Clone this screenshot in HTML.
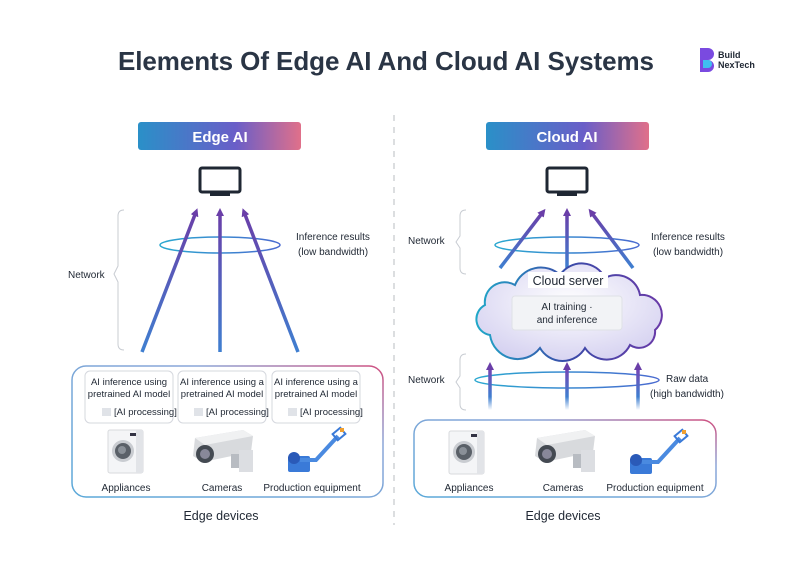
<!DOCTYPE html>
<html><head><meta charset="utf-8"><style>
html,body{margin:0;padding:0;background:#fff}
svg{display:block}
text{font-family:"Liberation Sans",sans-serif;fill:#1f2733}
</style></head><body>
<svg width="787" height="564" viewBox="0 0 787 564" xmlns="http://www.w3.org/2000/svg">
<defs>
<linearGradient id="ban" x1="0" x2="1" y1="0" y2="0"><stop offset="0" stop-color="#2a90c8"/><stop offset="0.6" stop-color="#6a5ec8"/><stop offset="1" stop-color="#e0708a"/></linearGradient>
<linearGradient id="arr" x1="0" x2="0" y1="1" y2="0"><stop offset="0" stop-color="#3f7fd0"/><stop offset="1" stop-color="#6a3ea8"/></linearGradient>
<linearGradient id="arr2" x1="0" x2="0" y1="1" y2="0"><stop offset="0" stop-color="#ffffff"/><stop offset="0.3" stop-color="#3f7fd0"/><stop offset="1" stop-color="#7a3eb0"/></linearGradient>
<linearGradient id="bx" x1="0" x2="1" y1="1" y2="0"><stop offset="0" stop-color="#5aa8d8"/><stop offset="0.7" stop-color="#8aa6d8"/><stop offset="1" stop-color="#d05080"/></linearGradient>
<linearGradient id="ell" x1="0" x2="1"><stop offset="0" stop-color="#2aa8d0"/><stop offset="1" stop-color="#4a6ad0"/></linearGradient>
<linearGradient id="cl" x1="0" x2="1"><stop offset="0" stop-color="#20a8c8"/><stop offset="0.5" stop-color="#3a4aa8"/><stop offset="1" stop-color="#6a3aa8"/></linearGradient>
<radialGradient id="clf" cx="0.5" cy="0.4" r="0.65"><stop offset="0" stop-color="#ffffff"/><stop offset="1" stop-color="#d4d0f0"/></radialGradient>
<marker id="ah" markerWidth="8" markerHeight="8" refX="4" refY="4" orient="auto" markerUnits="userSpaceOnUse"><path d="M0,0 L8,4 L0,8 z" fill="#6a3ea8"/></marker>
<g id="washer"><rect x="0" y="0" width="35" height="43" rx="2" fill="#f4f5f7" stroke="#d8dadd"/><rect x="28" y="0" width="7" height="43" fill="#e2e4e8"/><rect x="22" y="3" width="6" height="3" fill="#334"/><circle cx="15" cy="21" r="11" fill="#c9ccd1"/><circle cx="15" cy="21" r="8" fill="#5a6068"/><circle cx="14" cy="20" r="4" fill="#8a9098"/></g>
<g id="camera"><path d="M4,8 L52,0 L62,6 L60,22 L12,32 L2,26 z" fill="#d8dadd"/><path d="M4,8 L52,0 L62,6 L14,15 z" fill="#f0f1f2"/><ellipse cx="14" cy="24" rx="9" ry="9" fill="#444a52"/><circle cx="14" cy="24" r="5" fill="#889"/><rect x="40" y="24" width="10" height="14" fill="#b8bcc2"/><rect x="48" y="20" width="14" height="22" fill="#dcdee2"/></g>
<g id="robot"><rect x="2" y="28" width="22" height="16" rx="2" fill="#3a7ad8"/><circle cx="8" cy="30" r="6" fill="#2a5ab8"/><path d="M14,32 L30,32 L52,8" stroke="#4a8ae0" stroke-width="4" fill="none"/><rect x="48" y="2" width="10" height="8" fill="none" stroke="#3a7ad8" stroke-width="2" transform="rotate(-40 53 6)"/><rect x="54" y="0" width="4" height="4" fill="#f0a030"/></g>
</defs>

<text x="386" y="70" font-size="26" font-weight="bold" text-anchor="middle" textLength="536" lengthAdjust="spacing" style="fill:#2a3545">Elements Of Edge AI And Cloud AI Systems</text>
<path d="M700,48 h8 a6,6 0 0 1 0,12 a6,6 0 0 1 0,12 h-8 z" fill="#7a4ae0"/>
<path d="M703,60 h5 a4,4 0 0 1 0,8 h-5z" fill="#40c0f0"/>
<text x="718" y="58" font-size="9" font-weight="bold">Build</text>
<text x="718" y="68" font-size="9" font-weight="bold">NexTech</text>

<line x1="394" y1="115" x2="394" y2="525" stroke="#b8bcc2" stroke-dasharray="6,6"/>

<!-- LEFT -->
<rect x="138" y="122" width="163" height="28" rx="3" fill="url(#ban)"/>
<text x="220" y="142" font-size="15" font-weight="bold" text-anchor="middle" style="fill:#fff">Edge AI</text>
<rect x="200" y="168" width="40" height="24" rx="2" fill="none" stroke="#1f2733" stroke-width="3"/>
<rect x="210" y="193" width="20" height="3" fill="#1f2733"/>
<ellipse cx="220" cy="245" rx="60" ry="8" fill="none" stroke="url(#ell)" stroke-width="1.5"/>
<g stroke="url(#arr)" stroke-width="3.5" marker-end="url(#ah)">
<line x1="142" y1="352" x2="196" y2="212"/><line x1="220" y1="352" x2="220.01" y2="212"/><line x1="298" y1="352" x2="244" y2="212"/></g>
<path d="M124,210 q-6,0 -6,6 v50 l-4,8 l4,8 v62 q0,6 6,6" fill="none" stroke="#c8ccd2"/>
<text x="68" y="278" font-size="10">Network</text>
<text x="296" y="240" font-size="10">Inference results</text>
<text x="298" y="255" font-size="10">(low bandwidth)</text>
<rect x="72" y="366" width="311" height="131" rx="14" fill="none" stroke="url(#bx)" stroke-width="1.5"/>
<g font-size="9.5">
<rect x="85" y="371" width="88" height="52" rx="5" fill="#fff" stroke="#d5d8de"/>
<text x="129" y="385" text-anchor="middle">AI inference using</text><text x="129" y="397" text-anchor="middle">pretrained AI model</text>
<rect x="102" y="408" width="9" height="8" fill="#e0e3e8"/><text x="114" y="415">[AI processing]</text>
<rect x="178" y="371" width="88" height="52" rx="5" fill="#fff" stroke="#d5d8de"/>
<text x="222" y="385" text-anchor="middle">AI inference using a</text><text x="222" y="397" text-anchor="middle">pretrained AI model</text>
<rect x="194" y="408" width="9" height="8" fill="#e0e3e8"/><text x="206" y="415">[AI processing]</text>
<rect x="272" y="371" width="88" height="52" rx="5" fill="#fff" stroke="#d5d8de"/>
<text x="316" y="385" text-anchor="middle">AI inference using a</text><text x="316" y="397" text-anchor="middle">pretrained AI model</text>
<rect x="288" y="408" width="9" height="8" fill="#e0e3e8"/><text x="300" y="415">[AI processing]</text>
</g>
<use href="#washer" x="108" y="430"/><use href="#camera" x="191" y="430"/><use href="#robot" x="286" y="428"/>
<g font-size="10" text-anchor="middle"><text x="126" y="491">Appliances</text><text x="222" y="491">Cameras</text><text x="312" y="491">Production equipment</text></g>
<text x="221" y="520" font-size="12.5" text-anchor="middle">Edge devices</text>

<!-- RIGHT -->
<rect x="486" y="122" width="163" height="28" rx="3" fill="url(#ban)"/>
<text x="567" y="142" font-size="15" font-weight="bold" text-anchor="middle" style="fill:#fff">Cloud AI</text>
<rect x="547" y="168" width="40" height="24" rx="2" fill="none" stroke="#1f2733" stroke-width="3"/>
<rect x="557" y="193" width="20" height="3" fill="#1f2733"/>
<ellipse cx="567" cy="245" rx="72" ry="8" fill="none" stroke="url(#ell)" stroke-width="1.5"/>
<g stroke="url(#arr)" stroke-width="3.5" marker-end="url(#ah)">
<line x1="500" y1="268" x2="543" y2="212"/><line x1="567" y1="268" x2="567.01" y2="212"/><line x1="633" y1="268" x2="591" y2="212"/></g>
<path d="M466,210 q-6,0 -6,6 v20 l-4,6 l4,6 v20 q0,6 6,6" fill="none" stroke="#c8ccd2"/>
<text x="408" y="244" font-size="10">Network</text>
<text x="651" y="240" font-size="10">Inference results</text>
<text x="653" y="255" font-size="10">(low bandwidth)</text>
<path d="M490,335 A16,16 0 0 1 485,305 A20,20 0 0 1 515,285 A28,28 0 0 1 560,275 A26,26 0 0 1 605,278 A24,24 0 0 1 640,295 A20,20 0 0 1 655,330 A16,16 0 0 1 630,345 A26,26 0 0 1 585,348 A26,26 0 0 1 540,348 A28,28 0 0 1 490,335 Z" fill="url(#clf)" stroke="url(#cl)" stroke-width="2"/>
<rect x="528" y="272" width="80" height="16" fill="#fff"/>
<text x="568" y="285" font-size="12.5" text-anchor="middle">Cloud server</text>
<rect x="512" y="296" width="110" height="34" rx="3" fill="#f2f3f6" stroke="#dfe1e6"/>
<text x="567" y="310" font-size="10" text-anchor="middle">AI training ·</text>
<text x="567" y="323" font-size="10" text-anchor="middle">and inference</text>
<ellipse cx="567" cy="380" rx="92" ry="8" fill="none" stroke="url(#ell)" stroke-width="1.5"/>
<g stroke="url(#arr2)" stroke-width="3.5" marker-end="url(#ah)">
<line x1="490" y1="410" x2="490.01" y2="366"/><line x1="567" y1="410" x2="567.01" y2="366"/><line x1="638" y1="410" x2="638.01" y2="366"/></g>
<path d="M466,354 q-6,0 -6,6 v16 l-4,6 l4,6 v16 q0,6 6,6" fill="none" stroke="#c8ccd2"/>
<text x="408" y="383" font-size="10">Network</text>
<text x="666" y="382" font-size="10">Raw data</text>
<text x="650" y="397" font-size="10">(high bandwidth)</text>
<rect x="414" y="420" width="302" height="77" rx="14" fill="none" stroke="url(#bx)" stroke-width="1.5"/>
<use href="#washer" x="449" y="431"/><use href="#camera" x="533" y="430"/><use href="#robot" x="628" y="430"/>
<g font-size="10" text-anchor="middle"><text x="469" y="491">Appliances</text><text x="563" y="491">Cameras</text><text x="655" y="491">Production equipment</text></g>
<text x="563" y="520" font-size="12.5" text-anchor="middle">Edge devices</text>
</svg>
</body></html>
